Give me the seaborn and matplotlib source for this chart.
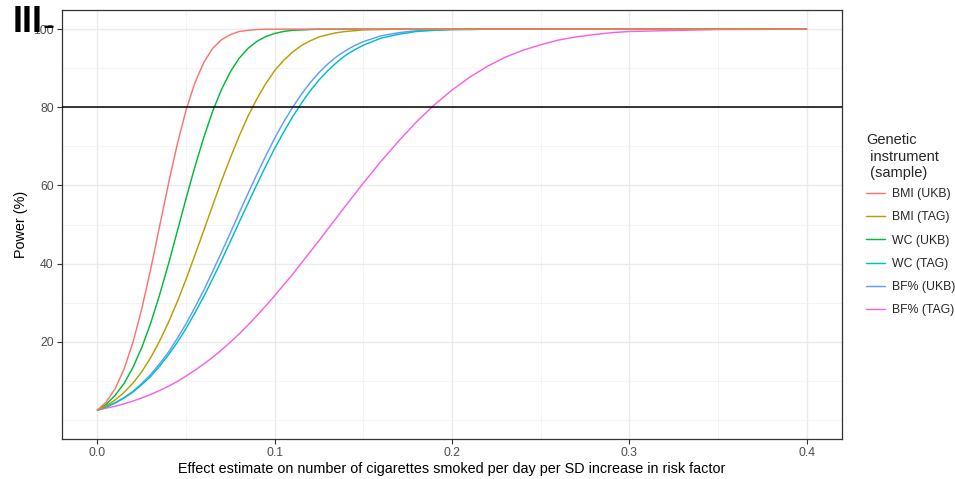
import numpy as np
import pandas as pd
import matplotlib
matplotlib.use("Agg")
import matplotlib.pyplot as plt
from matplotlib.ticker import FixedLocator
import seaborn as sns

# Effect size grid (cigarettes per day per SD increase in risk factor)
effect = [0.000, 0.005, 0.010, 0.015, 0.020, 0.025, 0.030, 0.035, 0.040, 0.045,
          0.050, 0.055, 0.060, 0.065, 0.070, 0.075, 0.080, 0.085, 0.090, 0.095,
          0.100, 0.105, 0.110, 0.115, 0.120, 0.125, 0.130, 0.135, 0.140, 0.145,
          0.150, 0.160, 0.170, 0.180, 0.190, 0.200, 0.210, 0.220, 0.230, 0.240,
          0.250, 0.260, 0.270, 0.280, 0.290, 0.300, 0.350, 0.400]

# Power (%) for each genetic instrument / sample
bmi_ukb = [2.5, 4.6, 8.0, 13.0, 19.8, 28.4, 38.5, 49.4, 60.3, 70.5,
           79.3, 86.3, 91.5, 95.1, 97.3, 98.6, 99.4, 99.7, 99.9, 100.0,
           100.0, 100.0, 100.0, 100.0, 100.0, 100.0, 100.0, 100.0, 100.0, 100.0,
           100.0, 100.0, 100.0, 100.0, 100.0, 100.0, 100.0, 100.0, 100.0, 100.0,
           100.0, 100.0, 100.0, 100.0, 100.0, 100.0, 100.0, 100.0]
bmi_tag = [2.5, 3.6, 5.1, 7.0, 9.4, 12.3, 15.9, 20.1, 24.9, 30.2,
           36.0, 42.2, 48.5, 54.9, 61.2, 67.1, 72.7, 77.8, 82.2, 86.1,
           89.4, 92.0, 94.1, 95.8, 97.0, 98.0, 98.6, 99.1, 99.4, 99.6,
           99.8, 99.9, 100.0, 100.0, 100.0, 100.0, 100.0, 100.0, 100.0, 100.0,
           100.0, 100.0, 100.0, 100.0, 100.0, 100.0, 100.0, 100.0]
wc_ukb = [2.5, 4.0, 6.3, 9.3, 13.4, 18.5, 24.7, 31.9, 39.8, 48.2,
          56.7, 64.8, 72.3, 79.0, 84.6, 89.1, 92.6, 95.1, 96.9, 98.1,
          98.9, 99.4, 99.7, 99.8, 99.9, 100.0, 100.0, 100.0, 100.0, 100.0,
          100.0, 100.0, 100.0, 100.0, 100.0, 100.0, 100.0, 100.0, 100.0, 100.0,
          100.0, 100.0, 100.0, 100.0, 100.0, 100.0, 100.0, 100.0]
wc_tag = [2.5, 3.3, 4.3, 5.6, 7.1, 9.0, 11.1, 13.7, 16.6, 19.8,
          23.4, 27.4, 31.6, 36.1, 40.8, 45.7, 50.6, 55.5, 60.3, 65.0,
          69.5, 73.6, 77.5, 81.0, 84.2, 87.0, 89.4, 91.5, 93.3, 94.7,
          95.9, 97.7, 98.7, 99.4, 99.7, 99.9, 99.9, 100.0, 100.0, 100.0,
          100.0, 100.0, 100.0, 100.0, 100.0, 100.0, 100.0, 100.0]
bf_ukb = [2.5, 3.4, 4.4, 5.7, 7.3, 9.3, 11.6, 14.3, 17.3, 20.8,
          24.6, 28.8, 33.2, 38.0, 42.9, 47.9, 53.0, 58.0, 62.9, 67.6,
          72.1, 76.2, 79.9, 83.3, 86.3, 88.9, 91.1, 93.0, 94.5, 95.8,
          96.8, 98.3, 99.1, 99.6, 99.8, 99.9, 100.0, 100.0, 100.0, 100.0,
          100.0, 100.0, 100.0, 100.0, 100.0, 100.0, 100.0, 100.0]
bf_tag = [2.5, 3.0, 3.5, 4.1, 4.8, 5.6, 6.5, 7.5, 8.6, 9.8,
          11.2, 12.7, 14.3, 16.0, 17.9, 19.9, 22.0, 24.3, 26.7, 29.2,
          31.8, 34.5, 37.2, 40.1, 43.0, 45.9, 48.9, 51.8, 54.8, 57.7,
          60.6, 66.2, 71.4, 76.3, 80.6, 84.4, 87.7, 90.5, 92.8, 94.6,
          96.0, 97.2, 98.0, 98.6, 99.1, 99.4, 99.9, 100.0]

instruments = ["BMI (UKB)", "BMI (TAG)", "WC (UKB)", "WC (TAG)", "BF% (UKB)", "BF% (TAG)"]
colours = ["#F8766D", "#B79F00", "#00BA38", "#00BFC4", "#619CFF", "#F564E3"]
power_threshold = 80

x_ticks = [0.0, 0.1, 0.2, 0.3, 0.4]
y_ticks = [20, 40, 60, 80, 100]

series = [bmi_ukb, bmi_tag, wc_ukb, wc_tag, bf_ukb, bf_tag]
df = pd.concat(
    [pd.DataFrame({"effect": effect, "power": vals, "instrument": name})
     for name, vals in zip(instruments, series)],
    ignore_index=True,
)

sns.set_theme(style="white")
plt.rcParams["font.family"] = ["Liberation Sans", "DejaVu Sans"]

fig = plt.figure(figsize=(9.55, 4.79), dpi=100)
ax = fig.add_axes([62 / 955, 1 - 439 / 479, 780 / 955, 429 / 479])

palette = dict(zip(instruments, colours))
# later instruments first so the first-listed curve sits on top
for name in instruments[::-1]:
    sns.lineplot(data=df[df["instrument"] == name], x="effect", y="power",
                 color=palette[name], linewidth=1.05, ax=ax, label=name,
                 estimator=None, sort=True)

ax.axhline(power_threshold, color="black", linewidth=1.1, zorder=5)

ax.set_xlim(-0.02, 0.42)
ax.set_ylim(-4.9, 104.9)
ax.xaxis.set_major_locator(FixedLocator(x_ticks))
ax.yaxis.set_major_locator(FixedLocator(y_ticks))
ax.xaxis.set_minor_locator(FixedLocator([0.05, 0.15, 0.25, 0.35]))
ax.yaxis.set_minor_locator(FixedLocator([0, 10, 30, 50, 70, 90]))
ax.set_xticklabels([f"{t:.1f}" for t in x_ticks])
ax.set_yticklabels([str(t) for t in y_ticks])

ax.grid(True, which="major", color="#EBEBEB", linewidth=1.0)
ax.grid(True, which="minor", color="#F2F2F2", linewidth=0.6)
ax.set_axisbelow(True)
for sp in ax.spines.values():
    sp.set_color("#333333")
    sp.set_linewidth(0.9)
ax.tick_params(axis="both", which="major", length=3.5, width=0.8, color="#333333",
               labelcolor="#4D4D4D", labelsize=8.8, pad=2.5, bottom=True, left=True)
ax.tick_params(axis="both", which="minor", length=0)

ax.set_xlabel("Effect estimate on number of cigarettes smoked per day per SD increase in risk factor",
              fontsize=10.4, color="black", labelpad=2)
ax.set_ylabel("Power (%)", fontsize=10.4, color="black", labelpad=4)

handles, labels = ax.get_legend_handles_labels()
order = [labels.index(n) for n in instruments]
leg = ax.legend([handles[i] for i in order], instruments,
                title="Genetic\n instrument\n (sample)",
                loc="upper left", bbox_to_anchor=(864 / 955, 1 - 131 / 479),
                bbox_transform=fig.transFigure, frameon=False,
                fontsize=8.8, title_fontsize=10.5, handlelength=1.5,
                handletextpad=0.6, labelspacing=0.92, borderpad=0.2,
                borderaxespad=0)
leg._legend_box.align = "left"
leg._legend_box.sep = 6

# panel tag in the top-left corner
fig.text(13 / 955, 1 - 5 / 479, "III", fontsize=26, fontweight="bold",
         va="top", ha="left", color="black", zorder=10)
fig.text(42 / 955, 1 - 9 / 479, "-", fontsize=26, fontweight="normal",
         va="top", ha="left", color="black", zorder=10)

fig.savefig("out.png", dpi=100)
